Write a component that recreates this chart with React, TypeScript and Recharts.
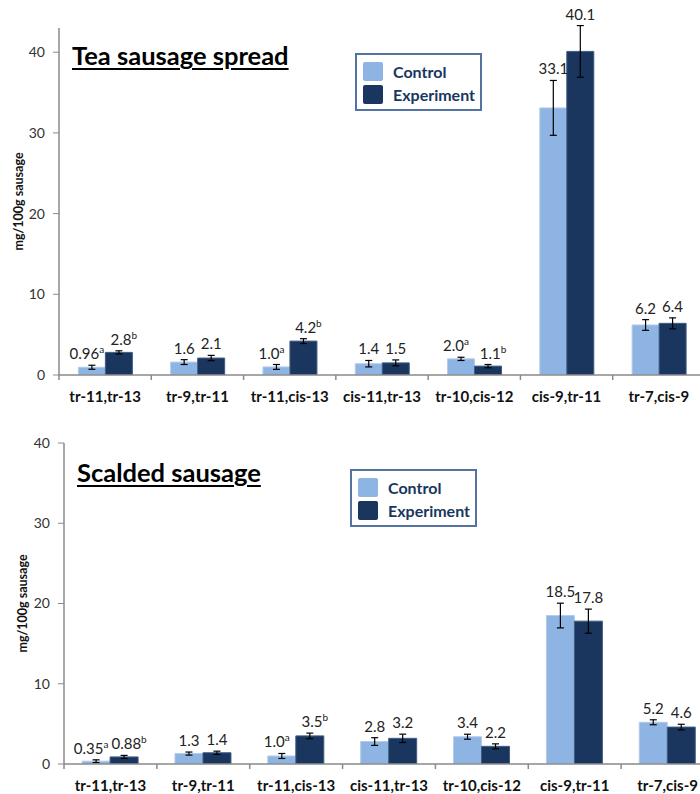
import React from 'react';
import { BarChart, Bar, XAxis, YAxis, ErrorBar, LabelList, Legend } from 'recharts';

// Fatty-acid isomers on the category axis
const categories = [
  'tr-11,tr-13',
  'tr-9,tr-11',
  'tr-11,cis-13',
  'cis-11,tr-13',
  'tr-10,cis-12',
  'cis-9,tr-11',
  'tr-7,cis-9',
];

// Tea sausage spread (mg/100g sausage)
const teaControl = [0.96, 1.6, 1.0, 1.4, 2.0, 33.1, 6.2];
const teaControlErr = [0.25, 0.3, 0.3, 0.4, 0.2, 3.4, 0.66];
const teaControlSup = ['a', '', 'a', '', 'a', '', ''];
const teaExperiment = [2.8, 2.1, 4.2, 1.5, 1.1, 40.1, 6.4];
const teaExperimentErr = [0.2, 0.33, 0.3, 0.37, 0.2, 3.2, 0.68];
const teaExperimentSup = ['b', '', 'b', '', 'b', '', ''];

// Scalded sausage (mg/100g sausage)
const scaldedControl = [0.35, 1.3, 1.0, 2.8, 3.4, 18.5, 5.2];
const scaldedControlErr = [0.17, 0.19, 0.31, 0.48, 0.31, 1.54, 0.31];
const scaldedControlSup = ['a', '', 'a', '', '', '', ''];
const scaldedExperiment = [0.88, 1.4, 3.5, 3.2, 2.2, 17.8, 4.6];
const scaldedExperimentErr = [0.19, 0.2, 0.35, 0.52, 0.31, 1.5, 0.35];
const scaldedExperimentSup = ['b', '', 'b', '', '', '', ''];

const yTicks = [0, 10, 20, 30, 40];

const CONTROL = '#8DB4E2';
const EXPERIMENT = '#1A365E';
const AXIS = '#8A8A8A';
const FONT = 'Lato, "Open Sans", sans-serif';
const LABEL_GAP = 16;

const buildRows = (c: number[], ce: number[], e: number[], ee: number[]) =>
  categories.map((name, i) => ({ name, c: c[i], ce: ce[i], e: e[i], ee: ee[i] }));

const fmt = (v: number) => (v < 1 ? v.toFixed(2) : v.toFixed(1));

// Value label placed above the top of the error bar, with an optional superscript letter.
// Lettered labels are nudged apart so neighbouring pairs stay readable.
const makeValueLabel = (errs: number[], sups: string[], nudge: number) => (props: any) => {
  const { x, y, width, height, value, index } = props;
  const v = Number(value);
  const pxPerUnit = v ? Number(height) / v : 0;
  const top = Number(y) - errs[index] * pxPerUnit;
  const sup = sups[index];
  return (
    <text
      x={Number(x) + Number(width) / 2 + (sup ? nudge : 0)}
      y={top - 6}
      textAnchor="middle"
      fontSize={15}
      fontFamily={FONT}
      fill="#222"
    >
      {fmt(v)}
      {sup ? (
        <tspan dy={-6} fontSize={10}>
          {sup}
        </tspan>
      ) : null}
    </text>
  );
};

// Category label with tick marks on the category boundaries
const CategoryTick = (props: any) => {
  const { x, y, payload, index } = props;
  const half = payload && typeof payload.offset === 'number' ? payload.offset : 46;
  const axisY = Number(y) - LABEL_GAP;
  const last = index === categories.length - 1;
  return (
    <g>
      <line x1={x - half} y1={axisY} x2={x - half} y2={axisY + 5} stroke={AXIS} strokeWidth={1.5} />
      {last ? <line x1={x + half} y1={axisY} x2={x + half} y2={axisY + 5} stroke={AXIS} strokeWidth={1.5} /> : null}
      <text
        x={x}
        y={y}
        dy="0.71em"
        textAnchor="middle"
        fontSize={15}
        fontWeight={700}
        fontFamily={FONT}
        fill="#111"
      >
        {payload.value}
      </text>
    </g>
  );
};

const LegendBox = (props: any) => {
  const payload = props.payload || [];
  return (
    <div
      style={{
        width: 127,
        height: 58,
        boxSizing: 'border-box',
        border: '2px solid #5473A3',
        background: '#fff',
        position: 'relative',
        fontFamily: FONT,
      }}
    >
      {payload.map((entry: any, i: number) => (
        <div key={entry.value} style={{ position: 'absolute', left: 6, top: 7 + i * 23, display: 'flex', alignItems: 'center' }}>
          <div style={{ width: 20, height: 19, background: entry.color, borderRadius: 2 }} />
          <span style={{ marginLeft: 10, fontSize: 16, fontWeight: 700, color: '#17375E', lineHeight: '19px' }}>
            {entry.value}
          </span>
        </div>
      ))}
    </div>
  );
};

const YLabel = (cx: number) => (props: any) => {
  const vb = props.viewBox || {};
  const x = (vb.x || 0) + cx;
  const y = (vb.y || 0) + (vb.height || 0) / 2;
  return (
    <text
      x={x}
      y={y}
      transform={`rotate(-90 ${x} ${y})`}
      textAnchor="middle"
      dominantBaseline="central"
      fontSize={12.5}
      fontWeight={700}
      fontFamily={FONT}
      fill="#111"
    >
      mg/100g sausage
    </text>
  );
};

type PanelProps = {
  rows: any[];
  cErr: number[];
  eErr: number[];
  cSup: string[];
  eSup: string[];
  width: number;
  height: number;
  margin: { top: number; right: number; left: number; bottom: number };
  yWidth: number;
  yMax: number;
  categoryGap: string;
  legendPos: { left: number; top: number };
  yLabelX: number;
  nudge: number;
};

const Panel = (p: PanelProps) => (
  <BarChart
    width={p.width}
    height={p.height}
    data={p.rows}
    margin={p.margin}
    barCategoryGap={p.categoryGap}
    barGap={0}
  >
    <XAxis
      dataKey="name"
      type="category"
      axisLine={{ stroke: AXIS, strokeWidth: 1.5 }}
      tickLine={false}
      tickSize={0}
      tickMargin={LABEL_GAP}
      height={30}
      interval={0}
      tick={CategoryTick}
    />
    <YAxis
      type="number"
      domain={[0, p.yMax]}
      ticks={yTicks}
      allowDataOverflow
      width={p.yWidth}
      tickSize={6}
      tickMargin={8}
      axisLine={{ stroke: AXIS, strokeWidth: 1.5 }}
      tickLine={{ stroke: AXIS }}
      tick={{ fontSize: 14, fill: '#333', fontFamily: FONT }}
      label={YLabel(p.yLabelX)}
    />
    <Legend
      layout="vertical"
      align="center"
      verticalAlign="middle"
      content={LegendBox}
      wrapperStyle={{ left: p.legendPos.left, top: p.legendPos.top, width: 127, height: 58 }}
    />
    <Bar dataKey="c" name="Control" fill={CONTROL} stroke="#B4CCEB" strokeWidth={1} isAnimationActive={false}>
      <ErrorBar dataKey="ce" direction="y" width={3.5} stroke="#000" strokeWidth={1.2} />
      <LabelList dataKey="c" content={makeValueLabel(p.cErr, p.cSup, -p.nudge)} />
    </Bar>
    <Bar dataKey="e" name="Experiment" fill={EXPERIMENT} stroke="#3E5C84" strokeWidth={1} isAnimationActive={false}>
      <ErrorBar dataKey="ee" direction="y" width={3.5} stroke="#000" strokeWidth={1.2} />
      <LabelList dataKey="e" content={makeValueLabel(p.eErr, p.eSup, p.nudge)} />
    </Bar>
  </BarChart>
);

const titleStyle: React.CSSProperties = {
  position: 'absolute',
  fontFamily: FONT,
  fontWeight: 700,
  fontSize: 25.5,
  lineHeight: '26px',
  textDecoration: 'underline',
  textDecorationThickness: '2px',
  textUnderlineOffset: '3px',
  color: '#000',
  whiteSpace: 'nowrap',
};

export default function App() {
  const teaRows = buildRows(teaControl, teaControlErr, teaExperiment, teaExperimentErr);
  const scaldedRows = buildRows(scaldedControl, scaldedControlErr, scaldedExperiment, scaldedExperimentErr);
  return (
    <div style={{ position: 'absolute', left: 0, top: 0, width: 700, height: 794, overflow: 'hidden', background: '#fff' }}>
      <div style={{ position: 'absolute', left: 0, top: 0, width: 700, height: 410, overflow: 'hidden' }}>
        <Panel
          rows={teaRows}
          cErr={teaControlErr}
          eErr={teaExperimentErr}
          cSup={teaControlSup}
          eSup={teaExperimentSup}
          width={710}
          height={420}
          margin={{ top: 28, right: 5, left: 0, bottom: 15 }}
          yWidth={59}
          yMax={43}
          categoryGap="21%"
          legendPos={{ left: 355, top: 53 }}
          yLabelX={18}
          nudge={5}
        />
        <div style={{ ...titleStyle, left: 72, top: 42 }}>Tea sausage spread</div>
      </div>
      <div style={{ position: 'absolute', left: 0, top: 400, width: 700, height: 394, overflow: 'hidden' }}>
        <Panel
          rows={scaldedRows}
          cErr={scaldedControlErr}
          eErr={scaldedExperimentErr}
          cSup={scaldedControlSup}
          eSup={scaldedExperimentSup}
          width={720}
          height={394}
          margin={{ top: 43, right: 6, left: 0, bottom: 0 }}
          yWidth={64}
          yMax={40}
          categoryGap="19.5%"
          legendPos={{ left: 350, top: 69 }}
          yLabelX={22}
          nudge={5}
        />
        <div style={{ ...titleStyle, left: 77, top: 59 }}>Scalded sausage</div>
      </div>
    </div>
  );
}
